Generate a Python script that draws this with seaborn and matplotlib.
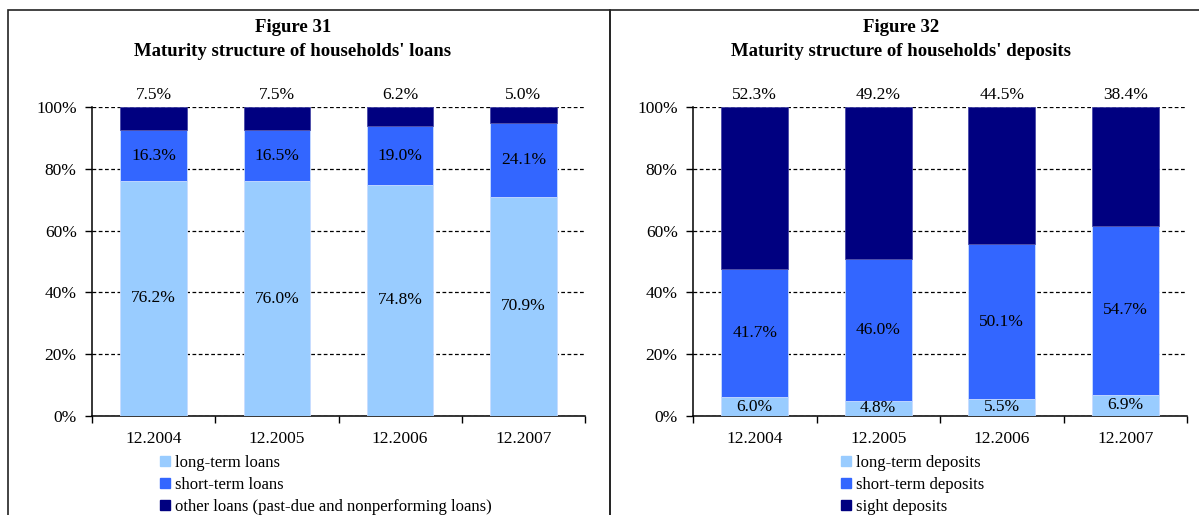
import matplotlib.pyplot as plt
import numpy as np
import pandas as pd
import seaborn as sns
from matplotlib.lines import Line2D
from matplotlib.patches import Rectangle

years = ["12.2004", "12.2005", "12.2006", "12.2007"]

loans_long = [76.2, 76.0, 74.8, 70.9]
loans_short = [16.3, 16.5, 19.0, 24.1]
loans_other = [7.5, 7.5, 6.2, 5.0]

dep_long = [6.0, 4.8, 5.5, 6.9]
dep_short = [41.7, 46.0, 50.1, 54.7]
dep_sight = [52.3, 49.2, 44.5, 38.4]

COLORS = ["#99CCFF", "#3366FF", "#000080"]
FONT = ["Liberation Serif", "DejaVu Serif"]


def draw_panel(ax, series, names, title_x, title, legend_x):
    df = pd.DataFrame({"year": years})
    bottom = np.zeros(len(years))
    for i, vals in enumerate(series):
        df["v"] = vals
        sns.barplot(data=df, x="year", y="v", ax=ax, color=COLORS[i],
                    bottom=bottom, width=0.54, linewidth=0.6,
                    edgecolor="#c8dcff" if i < 2 else "#4a4aa8",
                    saturation=1, zorder=3)
        bottom = bottom + np.array(vals)

    # data labels
    for i, cont in enumerate(ax.containers):
        labels = [f"{v:.1f}%" for v in series[i]]
        if i < 2:
            ax.bar_label(cont, labels=labels, label_type="center",
                         fontsize=12.5, family=FONT, color="black")
        else:
            ax.bar_label(cont, labels=labels, label_type="edge", padding=3,
                         fontsize=12.5, family=FONT, color="black")

    ax.set_xlim(-0.5, 3.5)
    ax.set_ylim(0, 100)
    ax.set_yticks(range(0, 101, 20))
    ax.set_yticklabels([f"{t}%" for t in range(0, 101, 20)])
    ax.yaxis.grid(True, color="black", linestyle=(0, (3, 2)), linewidth=0.9)
    ax.xaxis.grid(False)
    ax.set_axisbelow(True)
    ax.set_xlabel("")
    ax.set_ylabel("")
    for s in ["top", "right"]:
        ax.spines[s].set_visible(False)
    for s in ["left", "bottom"]:
        ax.spines[s].set_color("black")
        ax.spines[s].set_linewidth(1.1)
    ax.set_xticks([-0.5, 0.5, 1.5, 2.5, 3.5], minor=True)
    ax.tick_params(axis="x", which="major", length=0, pad=11, labelsize=12.5)
    ax.tick_params(axis="x", which="minor", length=5, width=1, color="black")
    ax.tick_params(axis="y", length=5, width=1, color="black", labelsize=12.5,
                   pad=6)
    for t in ax.get_xticklabels() + ax.get_yticklabels():
        t.set_family(FONT)

    fig = ax.figure
    fig.text(title_x, 1 - 28 / 515, title[0], ha="center", va="center",
             fontsize=13.5, fontweight="bold", family=FONT)
    fig.text(title_x, 1 - 52 / 515, title[1], ha="center", va="center",
             fontsize=13.5, fontweight="bold", family=FONT)

    handles = [Line2D([], [], marker="s", linestyle="none", markersize=7.5,
                      markerfacecolor=c, markeredgecolor=c) for c in COLORS]
    leg = fig.legend(handles, names, loc="upper left",
                     bbox_to_anchor=(legend_x, 1 - 455 / 515), frameon=False,
                     prop={"family": FONT, "size": 12}, handlelength=0.6,
                     handletextpad=0.3, labelspacing=0.36, borderpad=0,
                     borderaxespad=0)
    return leg


fig = plt.figure(figsize=(11.99, 5.15), dpi=100)
ax1 = fig.add_axes([92 / 1199, 99.2 / 515, 493 / 1199, 308.5 / 515])
ax2 = fig.add_axes([693 / 1199, 99.2 / 515, 494 / 1199, 308.5 / 515])

draw_panel(ax1, [loans_long, loans_short, loans_other],
           ["long-term loans", "short-term loans",
            "other loans (past-due and nonperforming loans)"],
           293 / 1199, ["Figure 31", "Maturity structure of households' loans"],
           160 / 1199)
draw_panel(ax2, [dep_long, dep_short, dep_sight],
           ["long-term deposits", "short-term deposits", "sight deposits"],
           901 / 1199, ["Figure 32", "Maturity structure of households' deposits"],
           841 / 1199)

# panel frames
fig.add_artist(Rectangle((8 / 1199, -0.1), 602 / 1199, 1.1 - 10 / 515,
                         transform=fig.transFigure, fill=False,
                         edgecolor="#222222", linewidth=1.2, clip_on=False))
fig.add_artist(Rectangle((610 / 1199, -0.1), 0.6, 1.1 - 10 / 515,
                         transform=fig.transFigure, fill=False,
                         edgecolor="#222222", linewidth=1.2, clip_on=False))

fig.savefig("out.png", dpi=100)
